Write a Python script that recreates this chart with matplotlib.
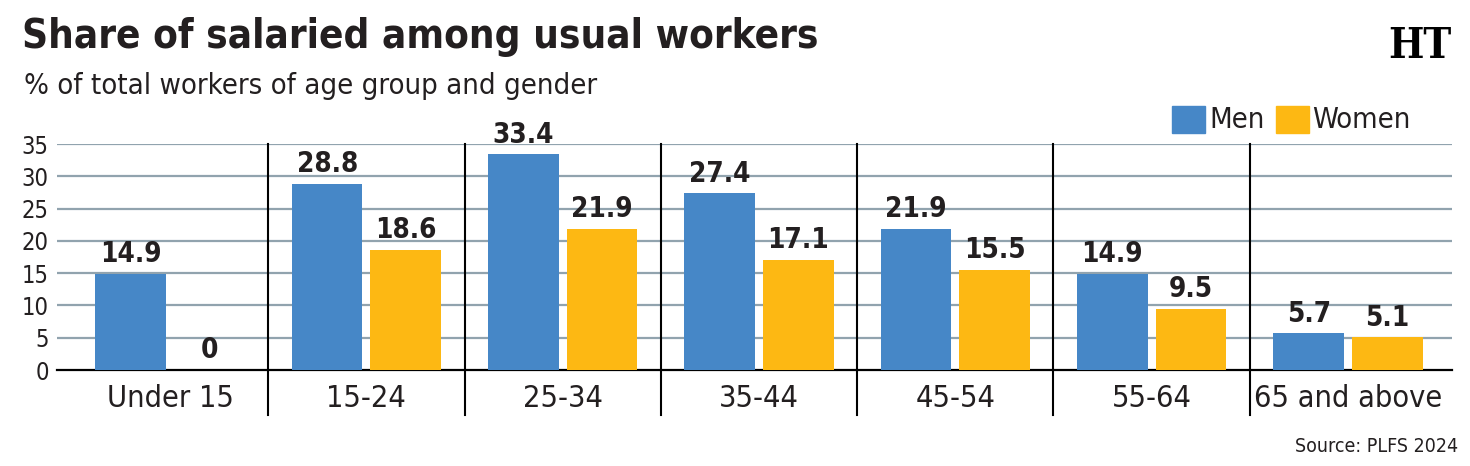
import matplotlib.pyplot as plt
import numpy as np

# Data
groups = ['Under 15', '15-24', '25-34', '35-44', '45-54', '55-64', '65 and above']
men = [14.9, 28.8, 33.4, 27.4, 21.9, 14.9, 5.7]
women = [0, 18.6, 21.9, 17.1, 15.5, 9.5, 5.1]
yticks = [0, 5, 10, 15, 20, 25, 30, 35]

blue = '#4687c7'
yellow = '#fdb813'
grid_col = '#91a3ae'
txt = '#231f20'

plt.rcParams['font.family'] = ['DejaVu Sans']
plt.rcParams['font.stretch'] = 'condensed'

fig = plt.figure(figsize=(14.7, 4.66), dpi=100)
ax = fig.add_axes([57 / 1470, 1 - 370 / 466, (1452 - 57) / 1470, 226 / 466])

x = np.arange(len(groups))
w = 0.36
b1 = ax.bar(x - 0.2, men, w, color=blue, label='Men', zorder=3)
b2 = ax.bar(x + 0.2, women, w, color=yellow, label='Women', zorder=3)

for bars, vals in [(b1, men), (b2, women)]:
    for r, v in zip(bars, vals):
        ax.annotate(f'{v:g}', (r.get_x() + r.get_width() / 2, v), xytext=(0, 4),
                    textcoords='offset points', ha='center', va='bottom',
                    fontsize=20, fontweight='bold', color=txt, stretch='condensed')

ax.set_xlim(-0.576, 6.53)
ax.set_ylim(0, 35)
ax.set_yticks(yticks)
ax.set_xticks(x)
ax.set_xticklabels(groups, fontsize=22, color=txt)
ax.tick_params(axis='y', length=0, labelsize=17, labelcolor=txt, pad=6)
ax.tick_params(axis='x', length=0, pad=10)
for lab in ax.get_yticklabels():
    lab.set_horizontalalignment('right')

for yv in yticks[1:]:
    ax.axhline(yv, color=grid_col, lw=1.6, zorder=1)
for s in ['top', 'right', 'left']:
    ax.spines[s].set_visible(False)
ax.spines['bottom'].set_linewidth(1.6)
ax.spines['bottom'].set_color('black')

for i in range(len(groups) - 1):
    ax.axvline(i + 0.5, ymin=-0.2, ymax=1.0, color='black', lw=1.5, clip_on=False, zorder=2)

# legend
fig.patches.append(plt.Rectangle((1172 / 1470, 1 - 133 / 466), 33 / 1470, 27 / 466,
                                 transform=fig.transFigure, color=blue))
fig.text(1209 / 1470, 1 - 120 / 466, 'Men', fontsize=21, color=txt, va='center')
fig.patches.append(plt.Rectangle((1276 / 1470, 1 - 133 / 466), 33 / 1470, 27 / 466,
                                 transform=fig.transFigure, color=yellow))
fig.text(1312 / 1470, 1 - 120 / 466, 'Women', fontsize=21, color=txt, va='center')

fig.text(22 / 1470, 1 - 48 / 466, 'Share of salaried among usual workers', fontsize=29,
         fontweight='bold', color=txt, va='baseline')
fig.text(24 / 1470, 1 - 94 / 466, '% of total workers of age group and gender', fontsize=21,
         color=txt, va='baseline')
fig.text(1452 / 1470, 1 - 58 / 466, 'HT', fontsize=30, fontweight='bold', family='DejaVu Serif',
         color='black', ha='right', va='baseline')
fig.text(1458 / 1470, 1 - 452 / 466, 'Source: PLFS 2024', fontsize=14, color=txt,
         ha='right', va='baseline')

plt.savefig('out.png', dpi=100)
